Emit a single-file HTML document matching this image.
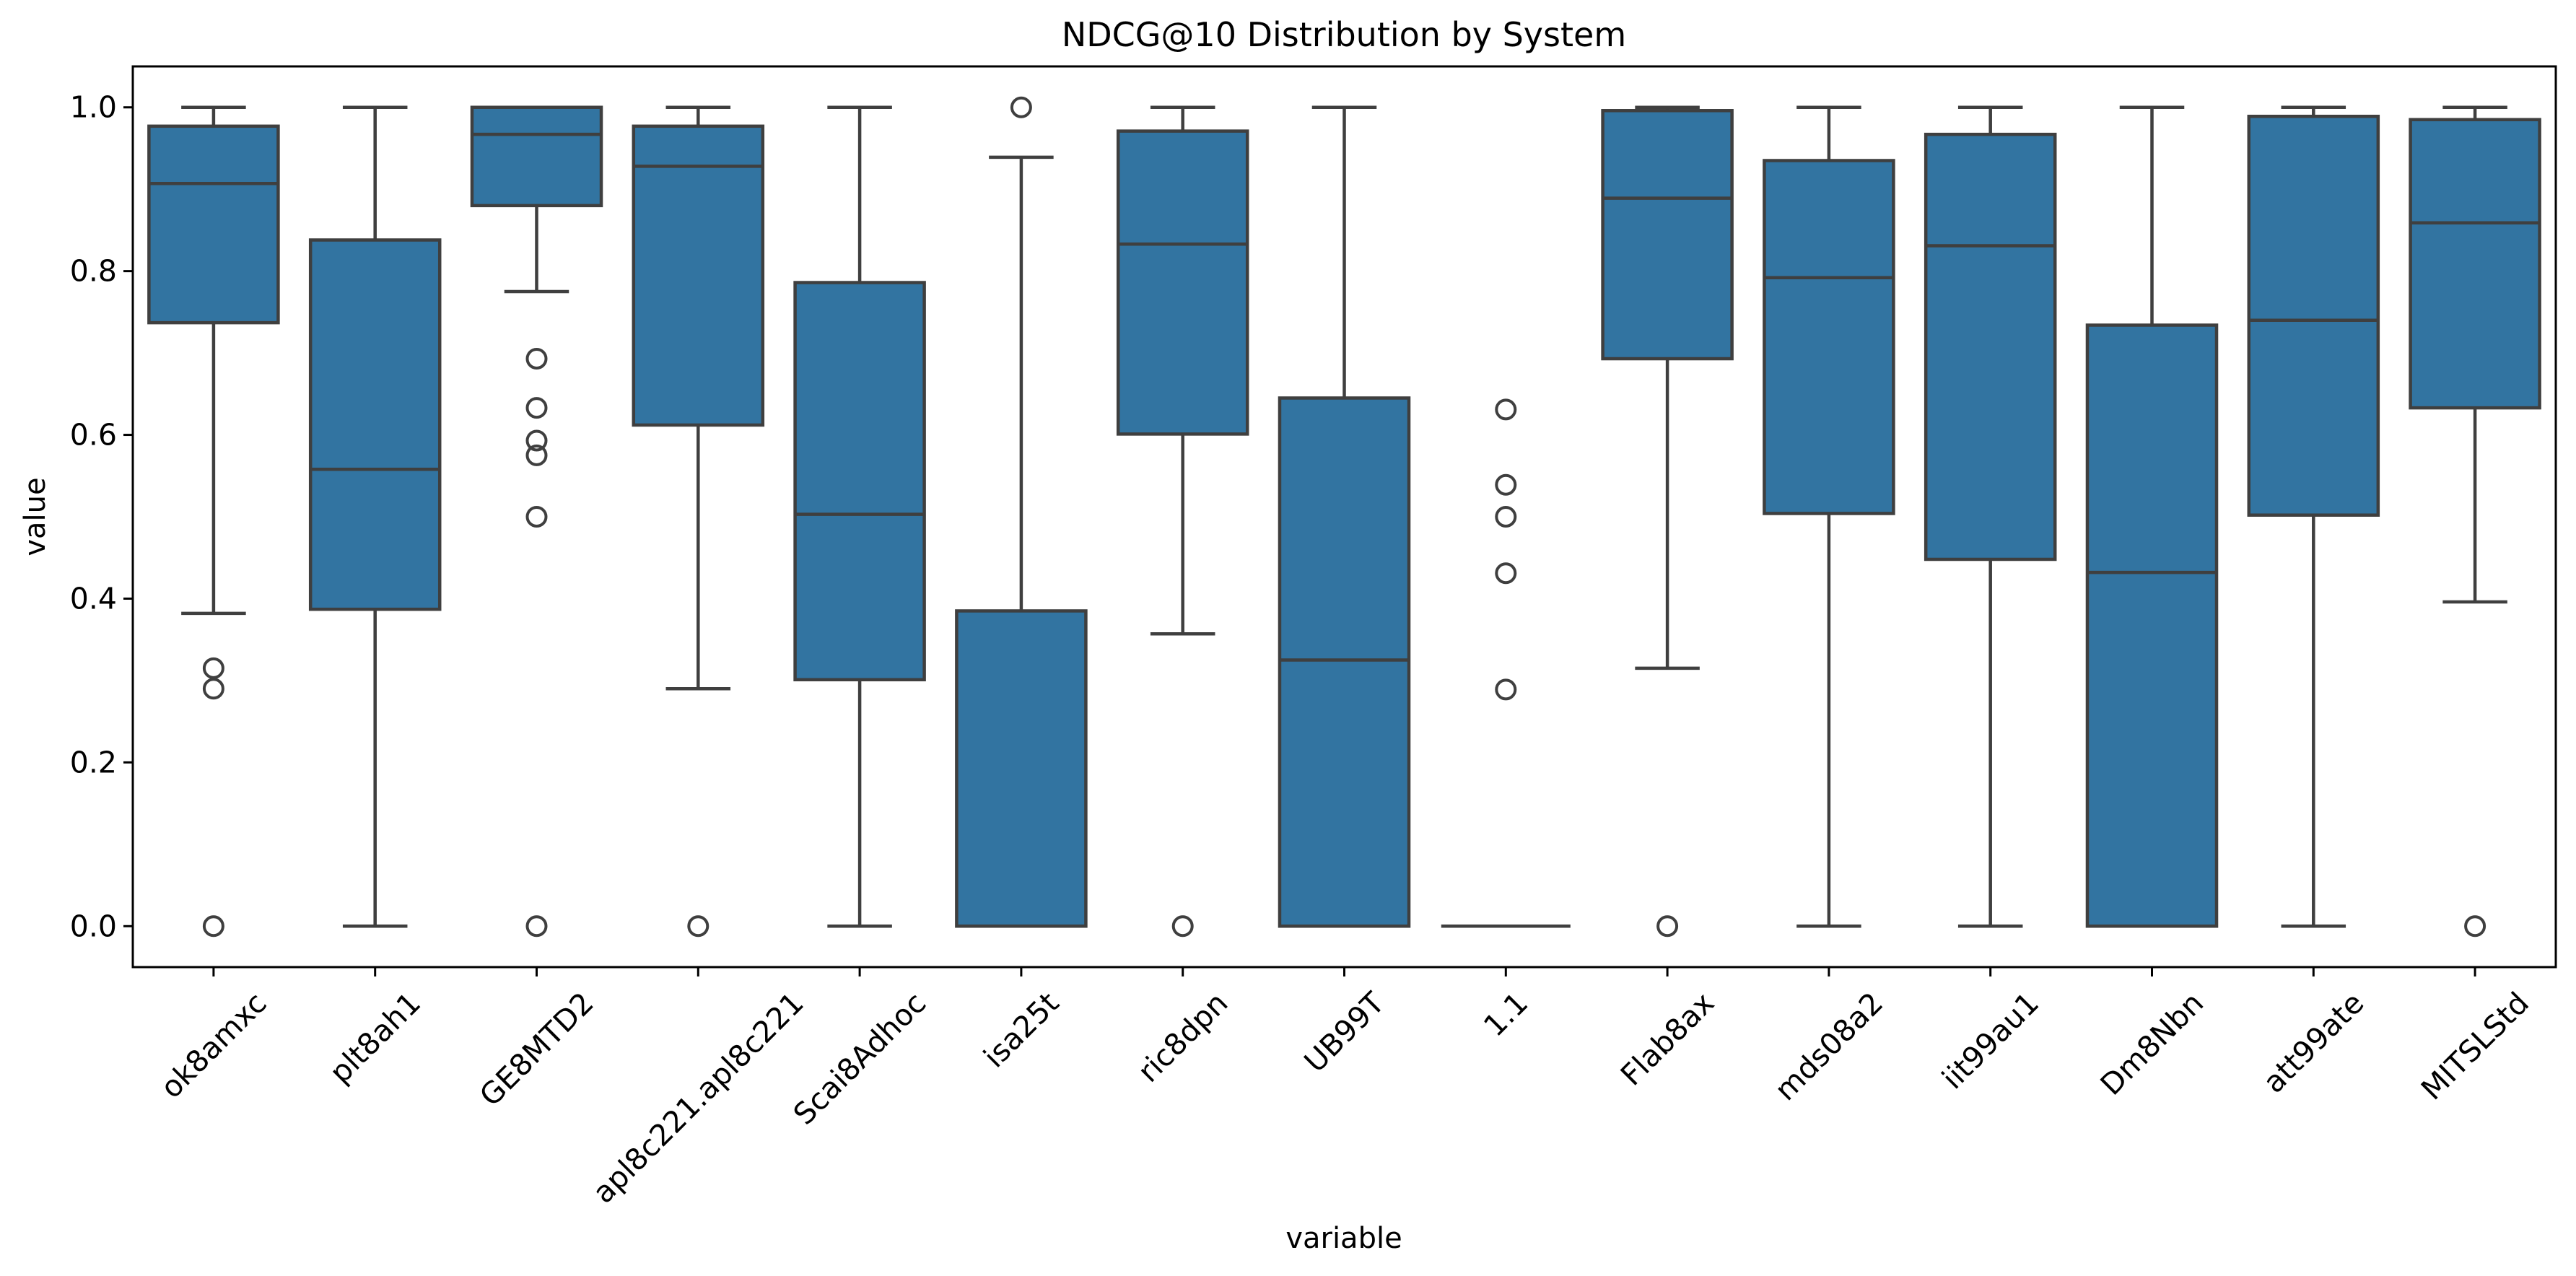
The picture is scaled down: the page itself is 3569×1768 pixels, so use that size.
<!DOCTYPE html>
<html><head><meta charset="utf-8"><style>
html,body{margin:0;padding:0;background:#fff;}
svg{display:block;font-family:"DejaVu Sans","Liberation Sans",sans-serif;}
</style></head><body>
<svg id="chart" width="3569" height="1768" viewBox="0 0 3569 1768" xmlns="http://www.w3.org/2000/svg">
<rect width="3569" height="1768" fill="#fff"/>
<text x="1862" y="64" font-size="46" text-anchor="middle" fill="#000">NDCG@10 Distribution by System</text>
<text x="1862" y="1729" font-size="40" text-anchor="middle" fill="#000">variable</text>
<text transform="translate(62,716) rotate(-90)" font-size="40" text-anchor="middle" fill="#000">value</text>
<g id="plot"></g>
</svg>
<script>
const categories = ["ok8amxc","plt8ah1","GE8MTD2","apl8c221.apl8c221","Scai8Adhoc","isa25t","ric8dpn","UB99T","1.1","Flab8ax","mds08a2","iit99au1","Dm8Nbn","att99ate","MITSLStd"];
const whiskerLow = [0.382,0,0.775,0.29,0,0,0.357,0,0,0.315,0,0,0,0,0.396];
const q1Values = [0.737,0.387,0.88,0.612,0.301,0,0.601,0,0,0.693,0.504,0.448,0,0.502,0.633];
const medianValues = [0.907,0.558,0.967,0.928,0.503,0,0.833,0.325,0,0.889,0.792,0.831,0.432,0.740,0.859];
const q3Values = [0.977,0.838,1.0,0.977,0.786,0.385,0.971,0.645,0,0.996,0.935,0.967,0.734,0.989,0.985];
const whiskerHigh = [1,1,1,1,1,0.939,1,1,0,1,1,1,1,1,1];
const outliers = [[0.315,0.29,0],[],[0.693,0.633,0.593,0.575,0.5,0],[0],[],[1.0],[0],[],[0.631,0.539,0.5,0.431,0.289],[0],[],[],[],[],[0]];
const yTicks = [0,0.2,0.4,0.6,0.8,1.0];
const yTickLabels = ["0.0","0.2","0.4","0.6","0.8","1.0"];

const NS="http://www.w3.org/2000/svg";
const L=184,R=3541,T=92,B=1340,yMin=-0.05,yMax=1.05;
const band=(R-L)/categories.length;
function xScale(i){return L+band*(i+0.5);}
function yScale(v){return B-(v-yMin)/(yMax-yMin)*(B-T);}
const plot=document.getElementById('plot');
function mk(tag,attrs,parent){const e=document.createElementNS(NS,tag);for(const k in attrs)e.setAttribute(k,attrs[k]);(parent||plot).appendChild(e);return e;}
const LC="#3f3f3f",LW=4.5;

yTicks.forEach((v,i)=>{
  const y=yScale(v);
  const t=mk('line',{x1:L-13,x2:L,y1:y,y2:y,stroke:"#000","stroke-width":3});
  
  
  const tx=mk('text',{x:L-22,y:y,"font-size":41,"text-anchor":"end","dominant-baseline":"central",fill:"#000"});
  tx.textContent=yTickLabels[i];
  
  
});

categories.forEach((c,i)=>{
  const cx=xScale(i),bw=band*0.8,cw=bw/2;
  const g=mk('g',{});
  
  
  mk('line',{x1:cx,x2:cx,y1:yScale(whiskerLow[i]),y2:yScale(q1Values[i]),stroke:LC,"stroke-width":LW},g);
  mk('line',{x1:cx,x2:cx,y1:yScale(q3Values[i]),y2:yScale(whiskerHigh[i]),stroke:LC,"stroke-width":LW},g);
  mk('line',{x1:cx-cw/2,x2:cx+cw/2,y1:yScale(whiskerLow[i]),y2:yScale(whiskerLow[i]),stroke:LC,"stroke-width":LW},g);
  mk('line',{x1:cx-cw/2,x2:cx+cw/2,y1:yScale(whiskerHigh[i]),y2:yScale(whiskerHigh[i]),stroke:LC,"stroke-width":LW},g);
  const yt=yScale(q3Values[i]),yb=yScale(q1Values[i]);
  mk('rect',{x:cx-bw/2,y:yt,width:bw,height:Math.max(yb-yt,0),fill:"#3274a1",stroke:LC,"stroke-width":LW},g);
  mk('line',{x1:cx-bw/2,x2:cx+bw/2,y1:yScale(medianValues[i]),y2:yScale(medianValues[i]),stroke:LC,"stroke-width":LW},g);
  outliers[i].forEach(v=>{
    const o=mk('circle',{cx:cx,cy:yScale(v),r:13,fill:"none",stroke:LC,"stroke-width":4},g);
    
    
  });
  const tk=mk('line',{x1:cx,x2:cx,y1:B,y2:B+13,stroke:"#000","stroke-width":3});
  
  
  const tx=mk('text',{"font-size":41,"text-anchor":"middle","dominant-baseline":"central",fill:"#000"});
  tx.textContent=c;
  
  
  const w=tx.getComputedTextLength(),h=41;
  const cy=1368+(w+h)*0.7071/2;
  tx.setAttribute('transform','translate('+cx+','+cy+') rotate(-45)');
});

const frame=mk('rect',{x:L,y:T,width:R-L,height:B-T,fill:"none",stroke:"#000","stroke-width":3});


</script>
</body></html>
